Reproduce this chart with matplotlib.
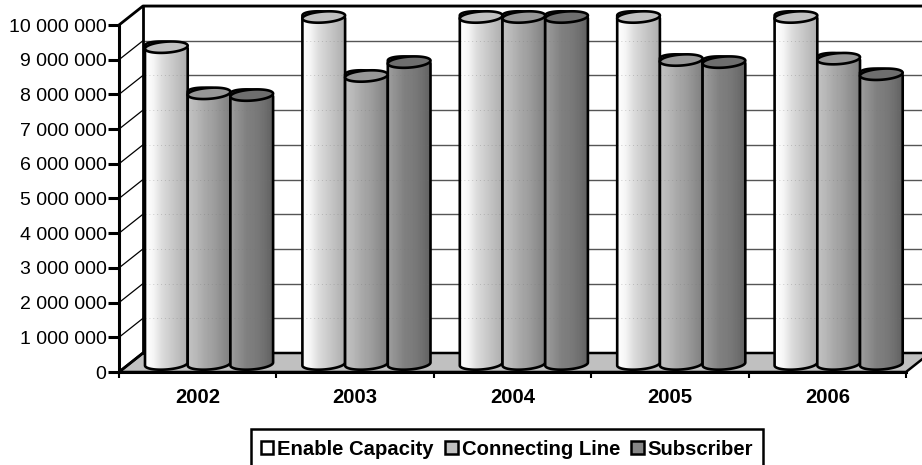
#! /usr/bin/env python3
import matplotlib
matplotlib.use("Agg")
import matplotlib.pyplot as plt
import numpy as np
from matplotlib.patches import Patch, Polygon

plt.rcParams["font.family"] = ["Liberation Sans", "DejaVu Sans"]

years = ["2002", "2003", "2004", "2005", "2006"]
series_names = ["Enable Capacity", "Connecting Line", "Subscriber"]
enable_capacity = [9130000, 10000000, 10000000, 10000000, 10000000]
connecting_line = [7800000, 8300000, 10000000, 8760000, 8800000]
subscriber = [7750000, 8700000, 10000000, 8700000, 8350000]
y_ticks = [0, 1000000, 2000000, 3000000, 4000000, 5000000, 6000000, 7000000, 8000000, 9000000, 10000000]
y_tick_labels = ["0", "1 000 000", "2 000 000", "3 000 000", "4 000 000", "5 000 000",
                 "6 000 000", "7 000 000", "8 000 000", "9 000 000", "10 000 000"]

FONT = 14
FONT_BOLD = 14.6
PX_X = 157.4      # pixels per category
PX_Y = 34.7e-6    # pixels per unit of value
DEPTH_X = 24 / PX_X
DEPTH_Y = 19 / PX_Y
BASE = 8 / PX_Y   # cylinders stand a little behind the front edge
WIDTH = 42.7 / PX_X
LEFT = 26 / PX_X
SEMI = 5.5 / PX_Y
TILT = 1.5 / PX_Y

# left to right lightness across each cylinder, legend colour, top colour
shades = [
    ((1.0, 0.96, 0.86, 0.80, 0.74, 0.68), "#ffffff", "#c0c0c0"),
    ((0.76, 0.72, 0.66, 0.62, 0.56, 0.50), "#c0c0c0", "#979797"),
    ((0.62, 0.56, 0.50, 0.48, 0.44, 0.38), "#868686", "#6e6e6e"),
]

fig = plt.figure(figsize=(9.22, 4.65), dpi=100)
ax = fig.add_axes([119 / 922, 93 / 465, 787 / 922, 347 / 465])
ax.set_xlim(0, 5)
ax.set_ylim(0, 10000000)

# walls and floor
ax.add_patch(Polygon([(0, 0), (DEPTH_X, DEPTH_Y), (5 + DEPTH_X, DEPTH_Y), (5, 0)], closed=True,
                     fc="#c0c0c0", ec="black", lw=1.8, clip_on=False, zorder=1))
for v in y_ticks[1:]:
    ax.plot([DEPTH_X, 5 + DEPTH_X], [v + DEPTH_Y, v + DEPTH_Y], color="#555555", lw=1,
            clip_on=False, zorder=1)
    ax.plot([0, DEPTH_X], [v, v + DEPTH_Y], color="black", lw=0.9, clip_on=False, zorder=1)
ax.plot([0, DEPTH_X, 5 + DEPTH_X], [10000000, 10000000 + DEPTH_Y, 10000000 + DEPTH_Y],
        color="black", lw=2, clip_on=False, zorder=1)
ax.plot([DEPTH_X, DEPTH_X], [DEPTH_Y, 10000000 + DEPTH_Y], color="black", lw=2,
        clip_on=False, zorder=1)
ax.plot([0, DEPTH_X], [0, DEPTH_Y], color="black", lw=2, clip_on=False, zorder=1)


def cylinder(x0, value, stops, top_color, z):
    cx = x0 + WIDTH / 2
    t = np.linspace(np.pi, 2 * np.pi, 40)
    ex = cx + WIDTH / 2 * np.cos(t)
    lower = SEMI * np.sin(t) + TILT * np.cos(t)
    top = BASE + value
    pts = np.vstack([
        np.column_stack([ex, BASE + lower]),
        np.column_stack([ex[::-1], top - lower[::-1]]),
    ])
    body = Polygon(pts, closed=True, fc="none", ec="black", lw=1.9, clip_on=False, zorder=z + 0.2)
    ax.add_patch(body)

    # horizontal shading with the slight banding of the original
    n = 86
    g = np.interp(np.linspace(0, 1, n), np.linspace(0, 1, len(stops)), stops)
    g[n // 3::4] += 0.018
    img = ax.imshow(np.clip(g, 0, 1).reshape(1, -1), cmap="gray", vmin=0, vmax=1, aspect="auto",
                    extent=(x0, x0 + WIDTH, 0, 11000000), zorder=z, interpolation="nearest")
    clip = Polygon(pts, closed=True, transform=ax.transData)
    img.set_clip_box(fig.bbox)  # tops rise above the axes box
    img.set_clip_path(clip)

    # faint dots where the grid shows through
    for v in y_ticks[1:]:
        if v + DEPTH_Y < top:
            ln, = ax.plot([x0, x0 + WIDTH], [v + DEPTH_Y, v + DEPTH_Y], color="#777777", lw=0.7,
                          ls=(0, (1, 3)), alpha=0.35, zorder=z + 0.1)
            ln.set_clip_box(fig.bbox)
            ln.set_clip_path(clip)

    t = np.linspace(0, 2 * np.pi, 80)
    ring = np.column_stack([cx + WIDTH / 2 * np.cos(t),
                            top + SEMI * np.sin(t) + TILT * np.cos(t)])
    ax.add_patch(Polygon(ring, closed=True, fc=top_color, ec="black", lw=1.9, clip_on=False,
                         zorder=z + 0.3))


for s, values in enumerate([enable_capacity, connecting_line, subscriber]):
    for i, value in enumerate(values):
        cylinder(i + LEFT + s * WIDTH, value, shades[s][0], shades[s][2], 3 + s + i * 3)

# axes
ax.xaxis.set_ticks(range(6))
ax.xaxis.set_ticklabels([])
ax.set_xticks(np.arange(5) + 0.5, years, minor=True, fontsize=FONT_BOLD, fontweight="bold")
ax.set_yticks(y_ticks, y_tick_labels, fontsize=FONT)
ax.tick_params(axis="y", length=8, width=2.2, pad=1)
ax.tick_params(axis="x", which="major", length=4.5, width=1.5)
ax.tick_params(axis="x", which="minor", length=0, pad=11.5)
for side in ("top", "right"):
    ax.spines[side].set_visible(False)
for side in ("left", "bottom"):
    ax.spines[side].set_linewidth(2.2)
    ax.spines[side].set_zorder(30)
ax.patch.set_visible(False)

handles = [Patch(fc=sh[1], ec="black", lw=1.8) for sh in shades]
leg = fig.legend(handles, series_names, loc="center", bbox_to_anchor=(507 / 922, 1 - 449 / 465),
                 ncol=3, frameon=True, fancybox=False, edgecolor="black", framealpha=1,
                 prop={"size": FONT_BOLD, "weight": "bold"}, handlelength=0.62, handleheight=0.62,
                 handletextpad=0.2, columnspacing=0.55, borderpad=0.5, borderaxespad=0)
leg.get_frame().set_linewidth(1.8)

fig.savefig("out.png", dpi=100)
